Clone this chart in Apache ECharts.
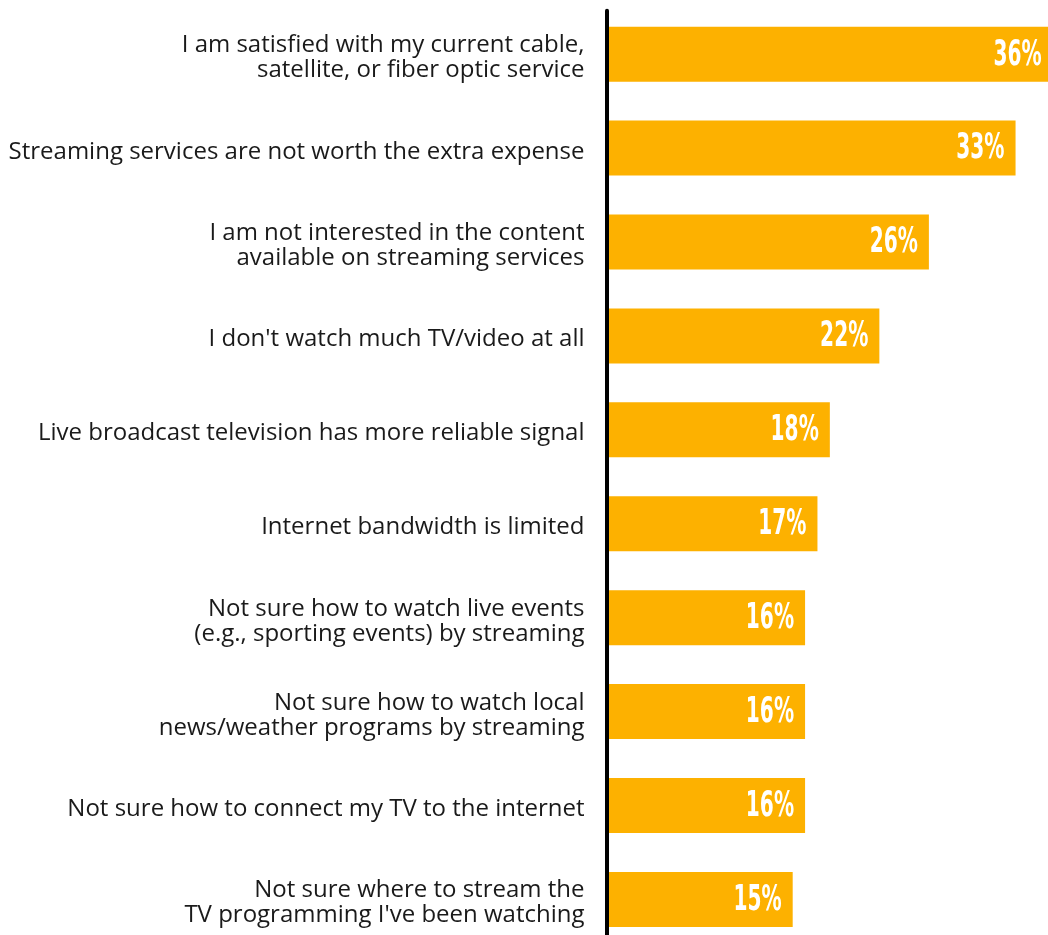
<!DOCTYPE html>
<html>
<head>
<meta charset="utf-8">
<script src="https://cdn.jsdelivr.net/npm/echarts@6/dist/echarts.min.js"></script>
<style>
html,body{margin:0;padding:0;background:#fff;}
#chart{width:1048px;height:935px;}
</style>
</head>
<body>
<div id="chart"></div>
<script>
const categories = [
  "I am satisfied with my current cable,\nsatellite, or fiber optic service",
  "Streaming services are not worth the extra expense",
  "I am not interested in the content\navailable on streaming services",
  "I don't watch much TV/video at all",
  "Live broadcast television has more reliable signal",
  "Internet bandwidth is limited",
  "Not sure how to watch live events\n(e.g., sporting events) by streaming",
  "Not sure how to watch local\nnews/weather programs by streaming",
  "Not sure how to connect my TV to the internet",
  "Not sure where to stream the\nTV programming I've been watching"
];
const values = [36, 33, 26, 22, 18, 17, 16, 16, 16, 15];

const chart = echarts.init(document.getElementById('chart'), null, {renderer: 'canvas'});
chart.setOption({
  animation: false,
  backgroundColor: '#ffffff',
  grid: [
    {left: 604.5, top: 7.2, width: 448.2, height: 939.2, containLabel: false, outerBoundsMode: 'none'},
    {left: 604.5, top: 10.8, width: 448.2, height: 939.2, containLabel: false, outerBoundsMode: 'none'}
  ],
  xAxis: [
    {type: 'value', min: -0.2, max: 36, show: false, gridIndex: 0},
    {type: 'value', min: -0.2, max: 36, show: false, gridIndex: 1}
  ],
  yAxis: [{
    type: 'category', data: categories, inverse: true, gridIndex: 0,
    axisLine: {show: false}, axisTick: {show: false}, axisLabel: {show: false},
    splitLine: {show: false}
  }, {
    type: 'category', data: categories, inverse: true, gridIndex: 1,
    z: 3,
    axisLine: {show: true, lineStyle: {color: '#000', width: 4}},
    axisTick: {show: false},
    axisLabel: {
      margin: 20, color: '#1a1a1a', fontSize: 24, lineHeight: 25,
      fontFamily: "'Open Sans', sans-serif", align: 'right'
    },
    splitLine: {show: false}
  }],
  series: [{
    type: 'bar', data: values, barWidth: 55,
    xAxisIndex: 0, yAxisIndex: 0,
    itemStyle: {color: '#FDB100'},
    label: {show: false}
  }, {
    type: 'custom',
    xAxisIndex: 0, yAxisIndex: 0,
    data: values.map((v, i) => [v, i]),
    encode: {x: 0, y: 1},
    z: 5,
    renderItem: function (params, api) {
      const pt = api.coord([api.value(0), api.value(1)]);
      return {
        type: 'text',
        x: pt[0] - 11,
        y: pt[1] + 1,
        scaleX: 0.56,
        style: {
          text: api.value(0) + '%',
          fill: '#ffffff',
          font: "bold 36px 'DejaVu Sans', sans-serif",
          align: 'right',
          verticalAlign: 'middle'
        }
      };
    }
  }]
});
</script>
</body>
</html>
